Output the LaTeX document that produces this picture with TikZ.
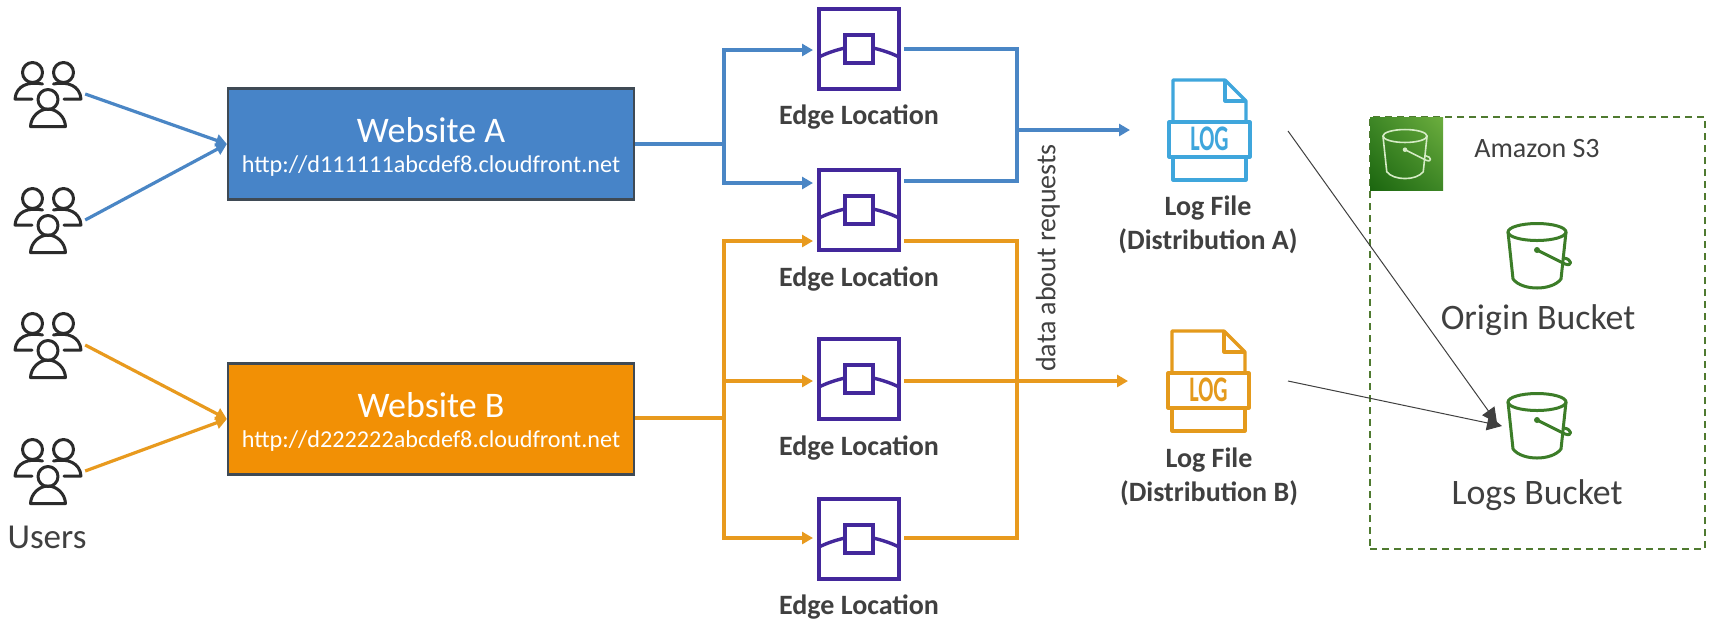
\documentclass[tikz,border=0pt]{standalone}
\usepackage{fontspec}
\usepackage{graphicx}
\setmainfont{Carlito}
\usetikzlibrary{arrows.meta,shadings}
\newcommand\fs[1]{\fontsize{#1}{#1}\selectfont}
\definecolor{bluefill}{HTML}{4784C8}
\definecolor{blueline}{HTML}{4A86C5}
\definecolor{orangefill}{HTML}{F29005}
\definecolor{orangeline}{HTML}{E89A1E}
\definecolor{edgepurple}{HTML}{43289B}
\definecolor{textgray}{HTML}{404040}
\definecolor{iconblack}{HTML}{2B2B2B}
\definecolor{boxedge}{HTML}{3F4A55}
\definecolor{logblue}{HTML}{3FA6DC}
\definecolor{logorange}{HTML}{E49A1C}
\definecolor{bucketgreen}{HTML}{3C7D28}
\definecolor{dashgreen}{HTML}{4F7A30}
\definecolor{greendark}{HTML}{1B660F}
\definecolor{greenmid}{HTML}{3E8726}
\definecolor{greenlight}{HTML}{6CAE3E}
\definecolor{bucketpale}{HTML}{D5EBC5}
\tikzset{
  x=1pt,y=-1pt,
  txt/.style={text=textgray,inner sep=0pt,align=center},
  edgelabel/.style={txt,font=\bfseries\fs{28}},
  loglabel/.style={txt,font=\bfseries\fs{28}},
  bucketlabel/.style={txt,font=\fs{35.8}},
  sitebox/.style={draw=boxedge,line width=2.2pt,minimum width=406pt,minimum height=111pt,inner sep=0pt},
  sitetitle/.style={text=white,inner sep=0pt,font=\fs{36}},
  siteurl/.style={text=white,inner sep=0pt,font=\fs{24.2}},
  edgebox/.style={draw=edgepurple,line width=3.4pt,minimum width=80pt,minimum height=80pt,inner sep=0pt},
  usersbox/.style={minimum width=74pt,minimum height=66pt,inner sep=0pt},
  bluearrow/.style={blueline,line width=3.2pt,-{Triangle[length=11pt,width=12pt]}},
  orangearrow/.style={orangeline,line width=3.2pt,-{Triangle[length=11pt,width=12pt]}},
  blueplain/.style={blueline,line width=3.2pt},
  orangeplain/.style={orangeline,line width=3.2pt},
  thinarrow/.style={textgray,line width=1pt,-{Triangle[length=15pt,width=15pt]}},
  pics/users/.style={code={
    \begin{scope}[iconblack,line width=3pt,line cap=round,line join=round]
    \draw (-15.5,-21.5) circle (10);
    \draw (15.5,-21.5) circle (10);
    \draw (0,5.5) circle (10);
    \draw (-5.5,-10) .. controls (-20,-13) and (-32,-8) .. (-33,5) -- (-16,5);
    \draw (5.5,-10) .. controls (20,-13) and (32,-8) .. (33,5) -- (16,5);
    \draw (-17.5,32.5) .. controls (-17,22) and (-8,15) .. (0,15) .. controls (8,15) and (17,22) .. (17.5,32.5) -- cycle;
    \end{scope}
  }},
  pics/edgeicon/.style={code={
    \begin{scope}[edgepurple,line width=3.4pt]
    \draw (-14,-14) rectangle (14,14);
    \draw (-40,8) .. controls (-32,4) and (-23,1) .. (-14,-1);
    \draw (40,8) .. controls (32,4) and (23,1) .. (14,-1);
    \end{scope}
  }},
  pics/logfile/.style={code={
    \begin{scope}[line width=3.2pt,line join=round]
    \draw (0,42) -- (0,0) -- (52,0) -- (73,21) -- (73,42);
    \draw (52,0) -- (52,21) -- (73,21);
    \draw (-4,42) rectangle (77,77);
    \draw (0,77) -- (0,100) -- (73,100) -- (73,77);
    \node[inner sep=0pt,font=\bfseries\fs{36}] at (36.5,59) {\scalebox{.62}[1]{LOG}};
    \end{scope}
  }},
  pics/bucket/.style={code={
    \begin{scope}[line cap=round,line join=round]
    \draw (0,0) ellipse [x radius=29,y radius=8.5];
    \draw (-29,0) -- (-24,47) .. controls (-15,59) and (15,59) .. (24,47) -- (29,0);
    \fill (0,18) circle (3);
    \draw (0,18) -- (28,32) .. controls (36,35) and (35,27) .. (27,26);
    \end{scope}
  }}
}
\begin{document}
\begin{tikzpicture}
\useasboundingbox[fill=white] (0,0) rectangle (1715,625);

% S3 container
\node[draw=dashgreen,line width=1.8pt,dash pattern=on 7pt off 5pt,minimum width=335pt,minimum height=432pt,inner sep=0pt] (s3box) at (1537.5,333) {};
\node[minimum width=73pt,minimum height=73pt,inner sep=0pt,shade,lower left=greendark,upper right=greenlight,lower right=greenmid,upper left=greenmid] (s3icon) at (1406.5,153.5) {};
\pic[color=bucketpale,line width=1.6pt,scale=.76] at (1405,136) {bucket};
\node[txt,font=\fs{28}] (s3label) at (1537,149) {Amazon S3};
\pic[color=bucketgreen,line width=3pt] at (1537,232) {bucket};
\node[bucketlabel] (originlabel) at (1538,320) {Origin Bucket};
\pic[color=bucketgreen,line width=3pt] at (1537,402) {bucket};
\node[bucketlabel] (logslabel) at (1537,495) {Logs Bucket};
\coordinate (logsbA) at (1497,423);
\coordinate (logsbB) at (1502,426);

% users
\node[usersbox] (u1) at (48,94) {};
\pic at (u1.center) {users};
\node[usersbox] (u2) at (48,220) {};
\pic at (u2.center) {users};
\node[usersbox] (u3) at (48,345) {};
\pic at (u3.center) {users};
\node[usersbox] (u4) at (48,471) {};
\pic at (u4.center) {users};
\node[txt,font=\fs{35}] (userslabel) at (47,537) {Users};

% websites
\node[sitebox,fill=bluefill] (siteA) at (431,144) {};
\node[sitetitle] (titleA) at (431,130) {Website A};
\node[siteurl] (urlA) at (431,166) {http://d111111abcdef8.cloudfront.net};
\node[sitebox,fill=orangefill] (siteB) at (431,419) {};
\node[sitetitle] (titleB) at (431,405) {Website B};
\node[siteurl] (urlB) at (431,441) {http://d222222abcdef8.cloudfront.net};

% edge locations
\foreach \n/\y/\ly in {e1/49/117,e2/210/279,e3/379/448,e4/539/607}{
  \node[edgebox] (\n) at (859,\y) {};
  \pic at (\n.center) {edgeicon};
  \node[edgelabel] (\n label) at (859,\ly) {Edge Location};
}

% log files
\pic[color=logblue] at (1173,80) {logfile};
\coordinate (logA) at (1130,130);
\node[loglabel] (logAlabel) at (1208,225) {Log File\\[5.5pt](Distribution A)};
\pic[color=logorange] at (1172,331) {logfile};
\coordinate (logB) at (1128,381);
\node[loglabel] (logBlabel) at (1209,477) {Log File\\[5.5pt](Distribution B)};

% junctions
\coordinate (jAl) at (724,144);
\coordinate (jAt) at (724,50);
\coordinate (jAb) at (724,183);
\coordinate (in1) at (813,50);
\coordinate (in2) at (813,183);
\coordinate (out1) at (904,49);
\coordinate (out2) at (904,181);
\coordinate (jRt) at (1017,49);
\coordinate (jRb) at (1017,181);
\coordinate (jRm) at (1017,130);
\coordinate (jBl) at (724,418);
\coordinate (jBt) at (724,241);
\coordinate (jBm) at (724,381);
\coordinate (jBb) at (724,538);
\coordinate (inb2) at (813,241);
\coordinate (inb3) at (813,381);
\coordinate (inb4) at (813,538);
\coordinate (outb2) at (904,241);
\coordinate (outb3) at (904,381);
\coordinate (outb4) at (904,538);
\coordinate (jSt) at (1017,241);
\coordinate (jSb) at (1017,538);
\coordinate (logAout) at (1288,131);
\coordinate (logBout) at (1288,381);

% blue connectors
\draw[bluearrow] (u1.east) -- (siteA.west);
\draw[bluearrow] (u2.east) -- (siteA.west);
\draw[blueplain] (siteA.east |- jAl) -- (jAl);
\draw[bluearrow] (jAb) -- (jAt) -- (in1);
\draw[bluearrow] (jAt) -- (jAb) -- (in2);
\draw[blueplain] (out1) -- (jRt) -- (jRb) -- (out2);
\draw[bluearrow] (jRm) -- (logA);

% orange connectors
\draw[orangearrow] (u3.east) -- (siteB.west);
\draw[orangearrow] (u4.east) -- (siteB.west);
\draw[orangeplain,line width=4pt] (siteB.east |- jBl) -- (jBl);
\draw[orangearrow] (jBb) -- (jBt) -- (inb2);
\draw[orangearrow] (jBm) -- (inb3);
\draw[orangearrow] (jBt) -- (jBb) -- (inb4);
\draw[orangeplain] (outb2) -- (jSt) -- (jSb) -- (outb4);
\draw[orangearrow] (outb3) -- (logB);

\node[txt,font=\fs{28},rotate=90] (datalabel) at (1048,258) {data about requests};

% thin arrows
\draw[thinarrow] (logAout) -- (logsbA);
\draw[thinarrow] (logBout) -- (logsbB);
\end{tikzpicture}
\end{document}
